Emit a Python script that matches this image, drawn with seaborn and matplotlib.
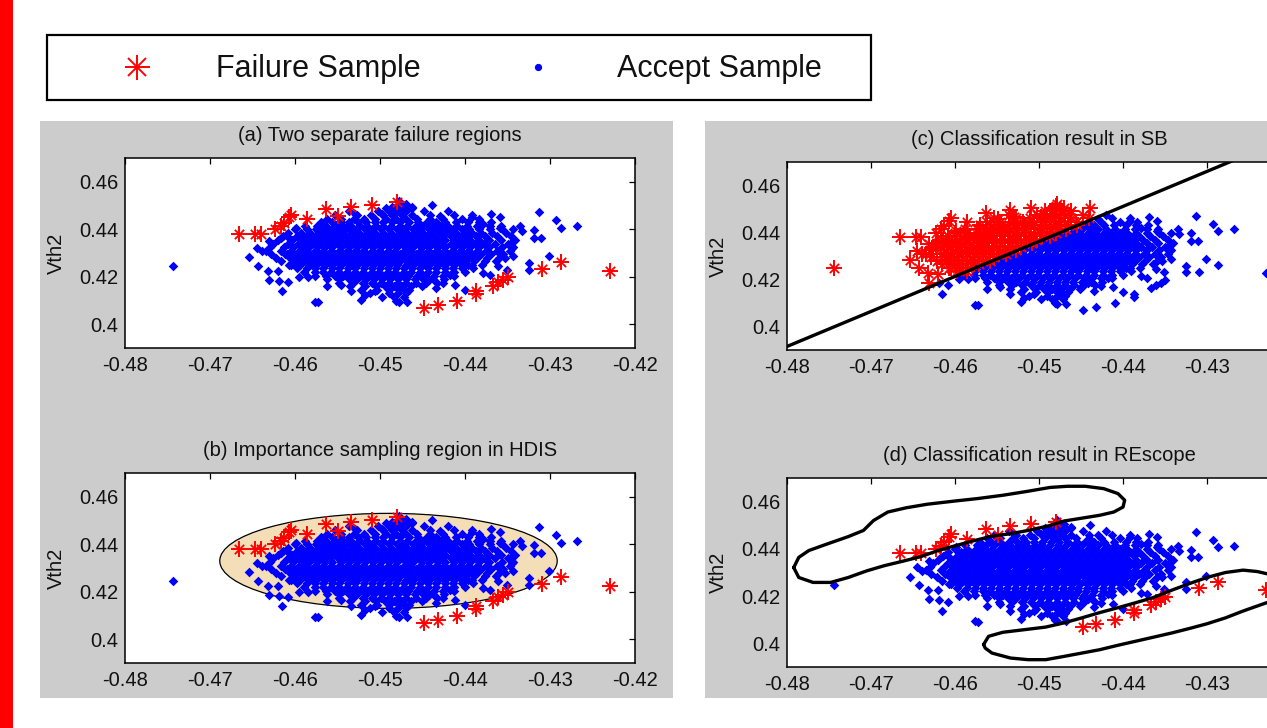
import numpy as np
import pandas as pd
import matplotlib
matplotlib.use("Agg")
import matplotlib.pyplot as plt
import seaborn as sns
from matplotlib.patches import Rectangle, Ellipse

sns.set_theme(style="white")
plt.rcParams['font.family'] = ['Liberation Sans', 'DejaVu Sans']

# ------------------------------------------------------------------ data
# true failure samples (red asterisks in a, b, d)
failure_x = [-0.4666, -0.4647, -0.4640, -0.4623, -0.4617, -0.4613, -0.4607, -0.4605,
             -0.4586, -0.4563, -0.4549, -0.4534, -0.4509, -0.4480,
             -0.4448, -0.4432, -0.4410, -0.4387, -0.4387, -0.4367, -0.4361, -0.4355,
             -0.4350, -0.4309, -0.4287, -0.4230]
failure_y = [0.4382, 0.4382, 0.4382, 0.4400, 0.4414, 0.4428, 0.4450, 0.4461,
             0.4443, 0.4485, 0.4457, 0.4495, 0.4504, 0.4513,
             0.4069, 0.4081, 0.4098, 0.4140, 0.4127, 0.4163, 0.4177, 0.4187,
             0.4197, 0.4234, 0.4261, 0.4226]

# accepted samples: dense core, read row by row (y level -> x positions)
core_levels = [0.4505, 0.4490, 0.4475, 0.4460, 0.4445, 0.4430, 0.4415, 0.4400,
               0.4385, 0.4370, 0.4355, 0.4340, 0.4325, 0.4310, 0.4295, 0.4280,
               0.4265, 0.4250, 0.4235, 0.4220, 0.4205, 0.4190, 0.4175, 0.4160,
               0.4145, 0.4130, 0.4115, 0.4100]
core_rows = [
    [-0.4478, -0.4470],
    [-0.4493, -0.4483, -0.4474, -0.4462],
    [-0.4536, -0.4502, -0.4490, -0.4480, -0.4469, -0.4448, -0.4420],
    [-0.4553, -0.4527, -0.4511, -0.4497, -0.4486, -0.4474, -0.4462, -0.4441, -0.4413, -0.4392],
    [-0.4562, -0.4546, -0.4531, -0.4519, -0.4506, -0.4493, -0.4481, -0.4469, -0.4456, -0.4441,
     -0.4426, -0.4404, -0.4383],
    [-0.4570, -0.4557, -0.4546, -0.4536, -0.4526, -0.4516, -0.4506, -0.4496, -0.4486, -0.4476,
     -0.4466, -0.4455, -0.4445, -0.4434, -0.4423, -0.4411, -0.4397, -0.4384, -0.4370],
    [-0.4588, -0.4574, -0.4563, -0.4553, -0.4543, -0.4534, -0.4524, -0.4515, -0.4505, -0.4496,
     -0.4487, -0.4477, -0.4468, -0.4458, -0.4449, -0.4439, -0.4430, -0.4420, -0.4410, -0.4398,
     -0.4386, -0.4371, -0.4358],
    [-0.4600, -0.4586, -0.4575, -0.4566, -0.4556, -0.4547, -0.4537, -0.4528, -0.4518, -0.4509,
     -0.4499, -0.4490, -0.4480, -0.4471, -0.4461, -0.4452, -0.4442, -0.4433, -0.4423, -0.4414,
     -0.4404, -0.4395, -0.4384, -0.4371, -0.4357, -0.4343],
    [-0.4608, -0.4593, -0.4582, -0.4572, -0.4563, -0.4553, -0.4544, -0.4534, -0.4525, -0.4515,
     -0.4506, -0.4496, -0.4487, -0.4477, -0.4468, -0.4458, -0.4449, -0.4439, -0.4430, -0.4420,
     -0.4411, -0.4401, -0.4392, -0.4381, -0.4368, -0.4352],
    [-0.4614, -0.4598, -0.4587, -0.4577, -0.4568, -0.4559, -0.4550, -0.4540, -0.4531, -0.4521,
     -0.4512, -0.4502, -0.4493, -0.4483, -0.4474, -0.4464, -0.4455, -0.4445, -0.4436, -0.4426,
     -0.4417, -0.4407, -0.4398, -0.4387, -0.4376, -0.4362, -0.4346],
    [-0.4620, -0.4603, -0.4592, -0.4582, -0.4573, -0.4564, -0.4555, -0.4546, -0.4536, -0.4527,
     -0.4518, -0.4508, -0.4499, -0.4489, -0.4480, -0.4470, -0.4461, -0.4451, -0.4442, -0.4432,
     -0.4423, -0.4413, -0.4404, -0.4394, -0.4384, -0.4372, -0.4358, -0.4341],
    [-0.4626, -0.4608, -0.4597, -0.4587, -0.4578, -0.4569, -0.4559, -0.4550, -0.4540, -0.4531,
     -0.4521, -0.4512, -0.4502, -0.4493, -0.4483, -0.4474, -0.4464, -0.4455, -0.4445, -0.4436,
     -0.4426, -0.4417, -0.4407, -0.4398, -0.4388, -0.4378, -0.4365, -0.4350],
    [-0.4630, -0.4613, -0.4602, -0.4592, -0.4583, -0.4574, -0.4565, -0.4556, -0.4546, -0.4537,
     -0.4527, -0.4518, -0.4508, -0.4499, -0.4489, -0.4480, -0.4470, -0.4461, -0.4451, -0.4442,
     -0.4432, -0.4423, -0.4413, -0.4404, -0.4394, -0.4384, -0.4372, -0.4357, -0.4343],
    [-0.4634, -0.4617, -0.4605, -0.4595, -0.4586, -0.4576, -0.4567, -0.4558, -0.4548, -0.4539,
     -0.4529, -0.4520, -0.4510, -0.4501, -0.4491, -0.4482, -0.4472, -0.4463, -0.4453, -0.4444,
     -0.4434, -0.4425, -0.4415, -0.4406, -0.4396, -0.4386, -0.4375, -0.4362, -0.4347],
    [-0.4628, -0.4612, -0.4601, -0.4591, -0.4582, -0.4572, -0.4563, -0.4553, -0.4544, -0.4534,
     -0.4525, -0.4515, -0.4506, -0.4496, -0.4487, -0.4477, -0.4468, -0.4458, -0.4449, -0.4439,
     -0.4430, -0.4420, -0.4411, -0.4401, -0.4392, -0.4381, -0.4369, -0.4355],
    [-0.4622, -0.4606, -0.4596, -0.4586, -0.4577, -0.4567, -0.4558, -0.4548, -0.4539, -0.4529,
     -0.4520, -0.4510, -0.4501, -0.4491, -0.4482, -0.4472, -0.4463, -0.4453, -0.4444, -0.4434,
     -0.4425, -0.4415, -0.4406, -0.4396, -0.4386, -0.4374, -0.4360],
    [-0.4616, -0.4600, -0.4590, -0.4580, -0.4571, -0.4561, -0.4552, -0.4542, -0.4533, -0.4523,
     -0.4514, -0.4504, -0.4495, -0.4485, -0.4476, -0.4466, -0.4457, -0.4447, -0.4438, -0.4428,
     -0.4419, -0.4409, -0.4400, -0.4389, -0.4377, -0.4364],
    [-0.4607, -0.4594, -0.4584, -0.4575, -0.4565, -0.4556, -0.4546, -0.4537, -0.4527, -0.4518,
     -0.4508, -0.4499, -0.4489, -0.4480, -0.4470, -0.4461, -0.4451, -0.4442, -0.4432, -0.4423,
     -0.4413, -0.4403, -0.4392, -0.4380],
    [-0.4598, -0.4586, -0.4576, -0.4567, -0.4557, -0.4548, -0.4538, -0.4529, -0.4519, -0.4510,
     -0.4500, -0.4491, -0.4481, -0.4472, -0.4462, -0.4453, -0.4443, -0.4434, -0.4424, -0.4414,
     -0.4403, -0.4391],
    [-0.4589, -0.4577, -0.4567, -0.4558, -0.4548, -0.4539, -0.4529, -0.4520, -0.4510, -0.4501,
     -0.4491, -0.4482, -0.4472, -0.4463, -0.4453, -0.4444, -0.4434, -0.4424, -0.4413, -0.4400],
    [-0.4576, -0.4564, -0.4553, -0.4543, -0.4533, -0.4524, -0.4514, -0.4505, -0.4495, -0.4486,
     -0.4476, -0.4467, -0.4457, -0.4447, -0.4437, -0.4426, -0.4413],
    [-0.4562, -0.4548, -0.4537, -0.4527, -0.4517, -0.4507, -0.4498, -0.4488, -0.4479, -0.4469,
     -0.4459, -0.4449, -0.4438, -0.4425],
    [-0.4548, -0.4532, -0.4520, -0.4509, -0.4499, -0.4489, -0.4479, -0.4469, -0.4458, -0.4446,
     -0.4433],
    [-0.4535, -0.4518, -0.4505, -0.4494, -0.4484, -0.4474, -0.4463, -0.4451],
    [-0.4522, -0.4503, -0.4489, -0.4478, -0.4466],
    [-0.4512, -0.4490, -0.4479, -0.4469],
    [-0.4498, -0.4484, -0.4472],
    [-0.4481],
]

# accepted samples: scattered points around the core
edge_x = [-0.4744, -0.4654, -0.4643, -0.4632, -0.4631, -0.4619, -0.4608, -0.4615, -0.4620,
          -0.4573, -0.4595, -0.4585, -0.4562, -0.4546, -0.4534, -0.4518, -0.4506, -0.4645,
          -0.4639, -0.4631, -0.4627, -0.4617, -0.4609, -0.4607, -0.4599, -0.4593, -0.4605,
          -0.4583, -0.4573, -0.4562, -0.4550, -0.4540, -0.4530, -0.4518, -0.4498, -0.4486,
          -0.4478, -0.4470, -0.4478, -0.4439, -0.4462, -0.4430, -0.4392, -0.4369, -0.4359,
          -0.4379, -0.4359, -0.4335, -0.4333, -0.4343, -0.4345, -0.4353, -0.4343, -0.4351,
          -0.4361, -0.4371, -0.4379, -0.4400, -0.4412, -0.4426, -0.4418, -0.4397, -0.4319,
          -0.4319, -0.4311, -0.4313, -0.4293, -0.4287, -0.4268, -0.4301, -0.4325, -0.4325,
          -0.4468, -0.4470, -0.4450, -0.4442, -0.4434, -0.4522, -0.4576]
edge_y = [0.4247, 0.4282, 0.4247, 0.4226, 0.4187, 0.4183, 0.4177, 0.4138, 0.4225,
          0.4092, 0.4201, 0.4201, 0.4159, 0.4166, 0.4138, 0.4123, 0.4138, 0.4322,
          0.4308, 0.4350, 0.4336, 0.4364, 0.4294, 0.4364, 0.4407, 0.4350, 0.4251,
          0.4379, 0.4414, 0.4393, 0.4428, 0.4407, 0.4464, 0.4435, 0.4464, 0.4492,
          0.4521, 0.4492, 0.4095, 0.4503, 0.4492, 0.4457, 0.4450, 0.4464, 0.4450,
          0.4421, 0.4407, 0.4414, 0.4393, 0.4350, 0.4322, 0.4279, 0.4286, 0.4230,
          0.4244, 0.4208, 0.4215, 0.4145, 0.4166, 0.4173, 0.4208, 0.4251, 0.4396,
          0.4365, 0.4365, 0.4471, 0.4438, 0.4407, 0.4414, 0.4286, 0.4258, 0.4230,
          0.4095, 0.4138, 0.4166, 0.4187, 0.4152, 0.4104, 0.4093]

# (b) HDIS importance-sampling ellipse
hdis_center_x = -0.4490
hdis_center_y = 0.4330
hdis_width = 0.0397
hdis_height = 0.0400

# (c) SB linear classification boundary
sb_line_x = [-0.48, -0.42]
sb_line_y = [0.3915, 0.4809]

# (d) REscope classification boundaries
rescope_upper_x = [-0.4792, -0.4786, -0.4774, -0.4752, -0.4727, -0.4709, -0.4697, -0.4680,
                   -0.4658, -0.4633, -0.4599, -0.4573, -0.4543, -0.4513, -0.4487, -0.4466,
                   -0.4445, -0.4423, -0.4406, -0.4398, -0.4400, -0.4411, -0.4428, -0.4449,
                   -0.4470, -0.4487, -0.4513, -0.4534, -0.4556, -0.4577, -0.4599, -0.4620,
                   -0.4641, -0.4663, -0.4684, -0.4705, -0.4727, -0.4748, -0.4769, -0.4786,
                   -0.4792]
rescope_upper_y = [0.4321, 0.4364, 0.4393, 0.4421, 0.4452, 0.4478, 0.4520, 0.4556,
                   0.4574, 0.4589, 0.4603, 0.4613, 0.4627, 0.4644, 0.4660, 0.4665,
                   0.4665, 0.4655, 0.4634, 0.4606, 0.4577, 0.4556, 0.4542, 0.4530,
                   0.4518, 0.4499, 0.4478, 0.4464, 0.4454, 0.4435, 0.4414, 0.4393,
                   0.4367, 0.4347, 0.4329, 0.4307, 0.4279, 0.4258, 0.4258, 0.4279,
                   0.4321]
rescope_lower_x = [-0.4566, -0.4560, -0.4543, -0.4522, -0.4492, -0.4470, -0.4449, -0.4428,
                   -0.4406, -0.4385, -0.4364, -0.4342, -0.4321, -0.4300, -0.4278, -0.4257,
                   -0.4240, -0.4223, -0.4210, -0.4208, -0.4218, -0.4257, -0.4278, -0.4300,
                   -0.4321, -0.4342, -0.4364, -0.4385, -0.4406, -0.4428, -0.4449, -0.4470,
                   -0.4492, -0.4513, -0.4534, -0.4556, -0.4564, -0.4566]
rescope_lower_y = [0.3995, 0.4030, 0.4047, 0.4056, 0.4069, 0.4087, 0.4108, 0.4130,
                   0.4151, 0.4172, 0.4194, 0.4225, 0.4253, 0.4279, 0.4300, 0.4310,
                   0.4304, 0.4290, 0.4265, 0.4222, 0.4186, 0.4137, 0.4108, 0.4083,
                   0.4063, 0.4044, 0.4026, 0.4009, 0.3992, 0.3973, 0.3959, 0.3945,
                   0.3931, 0.3931, 0.3938, 0.3959, 0.3980, 0.3995]

x_ticks = [-0.48, -0.47, -0.46, -0.45, -0.44, -0.43, -0.42]
x_tick_labels = ['-0.48', '-0.47', '-0.46', '-0.45', '-0.44', '-0.43', '-0.42']
y_ticks = [0.40, 0.42, 0.44, 0.46]
y_tick_labels = ['0.4', '0.42', '0.44', '0.46']
x_limits = [-0.48, -0.42]
y_limits = [0.39, 0.47]

panel_titles = ['(a) Two separate failure regions',
                '(b) Importance sampling region in HDIS',
                '(c) Classification result in SB',
                '(d) Classification result in REscope']
legend_labels = ['Failure Sample', 'Accept Sample']
y_label = 'Vth2'

# ------------------------------------------------------------------ tables
accept_x = [x for row in core_rows for x in row] + edge_x
accept_y = [lv for lv, row in zip(core_levels, core_rows) for _ in row] + edge_y
accept_df = pd.DataFrame({'x': accept_x, 'y': accept_y})
failure_df = pd.DataFrame({'x': failure_x, 'y': failure_y})
all_df = pd.concat([accept_df, failure_df], ignore_index=True)
boundary = np.interp(all_df['x'], sb_line_x, sb_line_y)
sb_fail = all_df[all_df['y'] > boundary]
sb_pass = all_df[all_df['y'] <= boundary]

# ------------------------------------------------------------------ figure
W, H = 1267, 728
fig = plt.figure(figsize=(W / 100, H / 100), dpi=100, facecolor='white')

bg = fig.add_axes([0, 0, 1, 1])
bg.set_xlim(0, W)
bg.set_ylim(H, 0)
bg.axis('off')
bg.set_zorder(0)
bg.add_patch(Rectangle((0, 0), 13, H, color='#FF0000', lw=0))
bg.add_patch(Rectangle((40, 121), 633, 577, color='#CCCCCC', lw=0))
bg.add_patch(Rectangle((705, 121), 600, 577, color='#CCCCCC', lw=0))
# legend box
bg.add_patch(Rectangle((46.5, 34.5), 824.5, 65, facecolor='white', edgecolor='black', lw=1.6))
bg.plot([136.7], [66.5], marker='+', ms=18, mew=1.4, color='#FF0000', ls='none')
bg.plot([136.7], [66.5], marker='x', ms=12.5, mew=1.4, color='#FF0000', ls='none')
bg.text(216, 76.5, legend_labels[0], fontsize=22, va='baseline', ha='left', color='#111111')
bg.plot([538], [67], marker='o', ms=4.2, color='#0000FF', ls='none')
bg.text(617, 76.5, legend_labels[1], fontsize=22, va='baseline', ha='left', color='#111111')


def rect(l, t, r, b):
    return [l / W, 1 - b / H, (r - l) / W, (b - t) / H]


ax_a = fig.add_axes(rect(125, 158, 635, 348))
ax_b = fig.add_axes(rect(125, 473, 635, 663))
ax_c = fig.add_axes(rect(787, 162, 1291, 350))
ax_d = fig.add_axes(rect(787, 478, 1291, 667))
axes = [ax_a, ax_b, ax_c, ax_d]

BLUE = '#0000FF'
RED = '#FF0000'
DIA_S = 24


def draw_blue(ax, df):
    sns.scatterplot(data=df, x='x', y='y', ax=ax, marker='D', s=DIA_S, color=BLUE,
                    linewidth=0, zorder=3, legend=False)


def draw_red(ax, df):
    sns.scatterplot(data=df, x='x', y='y', ax=ax, marker='+', s=120, color=RED,
                    linewidth=1.4, zorder=4, legend=False)
    sns.scatterplot(data=df, x='x', y='y', ax=ax, marker='x', s=45, color=RED,
                    linewidth=1.3, zorder=4, legend=False)


# (a)
draw_blue(ax_a, accept_df)
draw_red(ax_a, failure_df)

# (b)
ax_b.add_patch(Ellipse((hdis_center_x, hdis_center_y), hdis_width, hdis_height,
                       facecolor='#F4DEB8', edgecolor='black', lw=0.9, zorder=2))
draw_blue(ax_b, accept_df)
draw_red(ax_b, failure_df)

# (c)
draw_blue(ax_c, sb_pass)
draw_red(ax_c, sb_fail)
sns.lineplot(x=sb_line_x, y=sb_line_y, ax=ax_c, color='black', lw=2.4, zorder=5,
             sort=False, estimator=None)

# (d)
draw_blue(ax_d, accept_df)
draw_red(ax_d, failure_df)
sns.lineplot(x=rescope_upper_x, y=rescope_upper_y, ax=ax_d, color='black', lw=2.4,
             zorder=5, sort=False, estimator=None)
sns.lineplot(x=rescope_lower_x, y=rescope_lower_y, ax=ax_d, color='black', lw=2.4,
             zorder=5, sort=False, estimator=None)

for ax, title in zip(axes, panel_titles):
    ax.set_facecolor('white')
    ax.set_zorder(2)
    ax.set_xlim(*x_limits)
    ax.set_ylim(*y_limits)
    ax.set_xticks(x_ticks)
    ax.set_xticklabels(x_tick_labels)
    ax.set_yticks(y_ticks)
    ax.set_yticklabels(y_tick_labels)
    ax.tick_params(direction='in', length=4.5, width=0.9, top=True, right=True,
                   labelsize=14.5, colors='black', labelcolor='#111111')
    ax.tick_params(axis='x', pad=5.5)
    ax.tick_params(axis='y', pad=5)
    for sp in ax.spines.values():
        sp.set_visible(True)
        sp.set_color('black')
        sp.set_linewidth(1.1)
    ax.set_xlabel('')
    ax.set_ylabel(y_label, fontsize=14.5, labelpad=9, color='#111111')
    ax.set_title(title, fontsize=14.5, pad=12, color='#111111')
    ax.grid(False)

fig.savefig('out.png', dpi=100, facecolor='white')
